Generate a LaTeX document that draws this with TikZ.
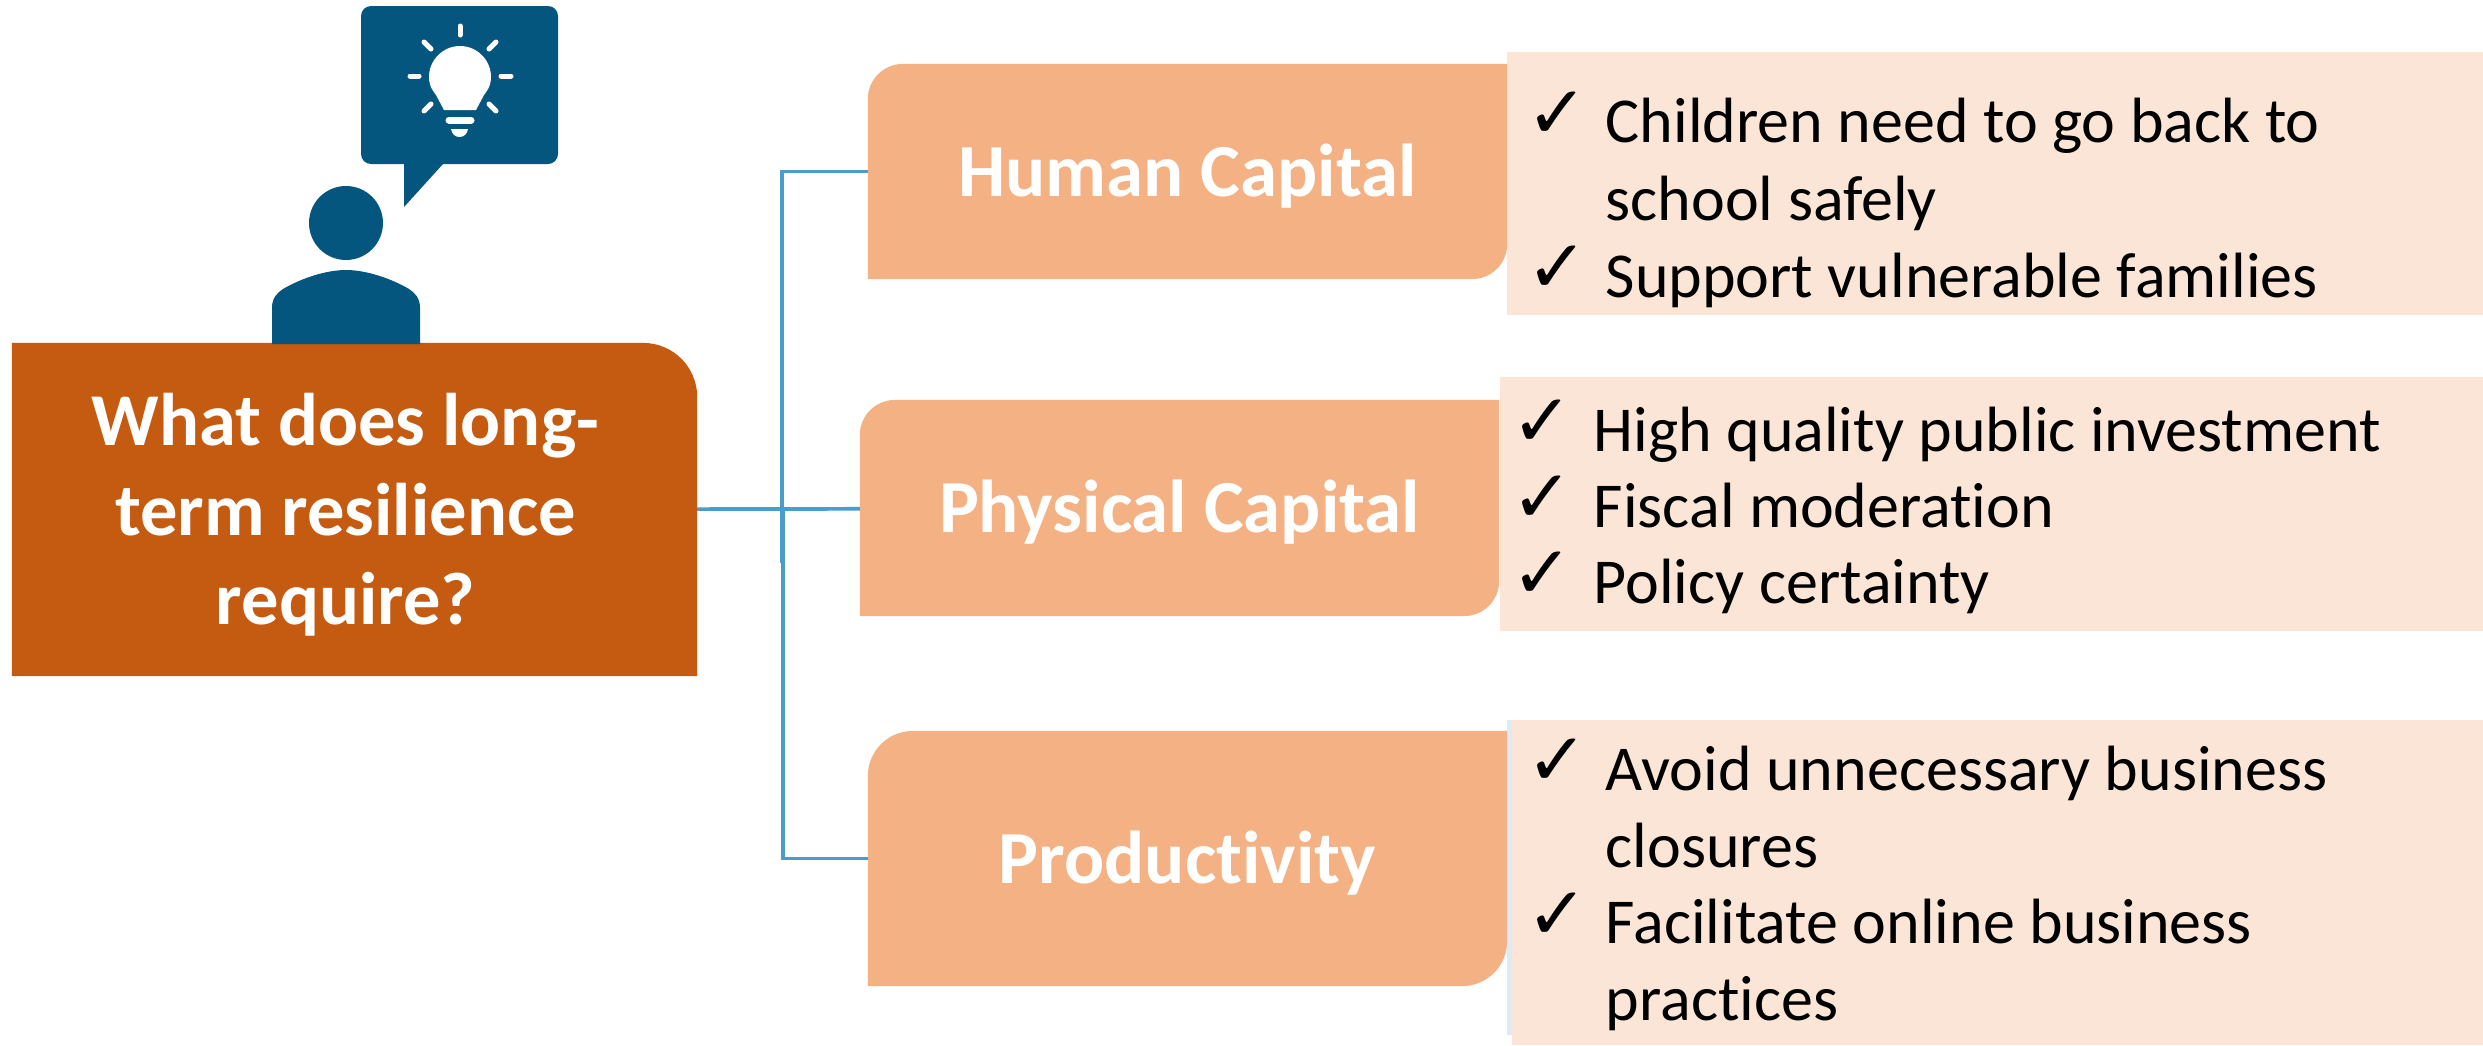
\documentclass[tikz,border=0pt]{standalone}
\usepackage{fontspec}
\setmainfont{Carlito}[Ligatures=NoCommon]
\newfontfamily\tickfont{DejaVu Sans}
\definecolor{questionfill}{HTML}{C55A11}
\definecolor{capfill}{HTML}{F4B183}
\definecolor{itemfill}{HTML}{FBE5D6}
\definecolor{stripfill}{HTML}{DEEBF7}
\definecolor{linkblue}{HTML}{4A9CC9}
\definecolor{iconblue}{HTML}{05567F}
\tikzset{
  capbox/.style 2 args={minimum width=6.39cm, minimum height=#1, inner sep=0pt, outer sep=0pt,
    text=white, text height=0.49cm, text depth=0pt, font=\fontsize{21.3}{26}\selectfont\bfseries,
    path picture={\fill[capfill]
      (path picture bounding box.south west)
      [rounded corners=#2] -- (path picture bounding box.north west)
      [sharp corners] -- (path picture bounding box.north east)
      [rounded corners=#2] -- (path picture bounding box.south east)
      [sharp corners] -- cycle;}},
  itembox/.style={anchor=north west, fill=itemfill, inner sep=0pt, outer sep=0pt},
  itemtext/.style={anchor=base west, inner sep=0pt, align=left, font=\fontsize{18.2}{21.9}\selectfont},
  tick/.style={anchor=base west, inner sep=0pt, font=\tickfont\fontsize{21}{21}\selectfont},
  link/.style={draw=linkblue, line width=0.037cm},
  ray/.style={draw=white, line width=0.05cm, line cap=round}
}
\begin{document}
\begin{tikzpicture}[x=0.01cm,y=-0.01cm]
\useasboundingbox (0,0) rectangle (2483,1045);

% Pale boxes behind the capital boxes
\node[itembox, minimum width=9.76cm, minimum height=2.63cm] (humanitems) at (1507,52) {};
\node[itembox, minimum width=9.83cm, minimum height=2.54cm] (physicalitems) at (1500,377) {};
\fill[stripfill] (1507,720) rectangle (1512,1035);
\node[itembox, minimum width=9.71cm, minimum height=3.25cm] (productivityitems) at (1512,720) {};

% Question box
\node[minimum width=6.85cm, minimum height=3.33cm, inner sep=0pt, outer sep=0pt,
  path picture={\fill[questionfill]
    (path picture bounding box.south west) -- (path picture bounding box.north west)
    [rounded corners=0.54cm] -- (path picture bounding box.north east)
    [sharp corners] -- (path picture bounding box.south east) -- cycle;}]
  (question) at (354.5,509.5) {};
\node[align=center, inner sep=0pt, text=white, font=\fontsize{21.2}{25.4}\selectfont\bfseries]
  (questiontext) at (345.5,515) {What does long-\\term resilience\\require?};

% Capital boxes
\node[capbox={2.15cm}{0.35cm}] (human) at (1187.5,171.5) {Human Capital};
\node[capbox={2.16cm}{0.35cm}] (physical) at (1179.5,508) {Physical Capital};
\node[capbox={2.55cm}{0.45cm}] (productivity) at (1187.5,858.5) {Productivity};

% Connectors
\coordinate (spine) at (782,509);
\coordinate (spineend) at (782,563);
\draw[link] (question) -- (spine);
\draw[link] (spine) -- (physical);
\draw[link] (human.west) -- (human.west -| spine) -- (spineend);
\draw[link] (productivity.west) -- ([xshift=0.01cm]productivity.west -| spine) -- ([xshift=0.01cm]spine);

% Person
\fill[iconblue] (346,223) circle [radius=37];
\fill[iconblue] (272,344) -- (272,308) .. controls (272,298) and (277,293) .. (283,289)
  .. controls (300,279) and (325,270) .. (346,270)
  .. controls (367,270) and (392,279) .. (409,289)
  .. controls (415,293) and (420,298) .. (420,308) -- (420,344) -- cycle;

% Speech bubble
\fill[iconblue, rounded corners=0.1cm] (361,6) rectangle (558,164);
\fill[iconblue] (404,160) -- (404,207) -- (443,164) -- (443,160) -- cycle;

% Light bulb
\fill[white] (444,110) -- (476,110) -- (484,95) .. controls (486,92) and (491,87) .. (491,77)
  .. controls (491,60) and (477,46) .. (460,46)
  .. controls (443,46) and (429,60) .. (429,77)
  .. controls (429,87) and (434,92) .. (436,95) -- cycle;
\draw[ray, line width=0.07cm] (449,120) -- (471,120);
\fill[white] (451,129) -- (468,129) .. controls (467,134) and (464,137) .. (459.5,137)
  .. controls (455,137) and (452,134) .. (451,129) -- cycle;
\foreach \xa/\ya/\xb/\yb in {460/26/460/35, 410/76/419/76, 501/76/511/76, 424/42/431/49,
    496/42/489/49, 424/111/431/104, 496/111/489/104}
  \draw[ray] (\xa,\ya) -- (\xb,\yb);

% Items
\node[tick] at (1526,138) {✓};
\node[itemtext] at (1605,220) {Children need to go back to\\school safely};
\node[tick] at (1526,292) {✓};
\node[itemtext] at (1605,297) {Support vulnerable families};

\node[tick] at (1511,446) {✓};
\node[itemtext] at (1593,451) {High quality public investment};
\node[tick] at (1511,522) {✓};
\node[itemtext] at (1593,527) {Fiscal moderation};
\node[tick] at (1511,598) {✓};
\node[itemtext] at (1593,603) {Policy certainty};

\node[tick] at (1526,785) {✓};
\node[itemtext] at (1605,867) {Avoid unnecessary business\\closures};
\node[tick] at (1526,939) {✓};
\node[itemtext] at (1605,1020) {Facilitate online business\\practices};
\end{tikzpicture}
\end{document}
